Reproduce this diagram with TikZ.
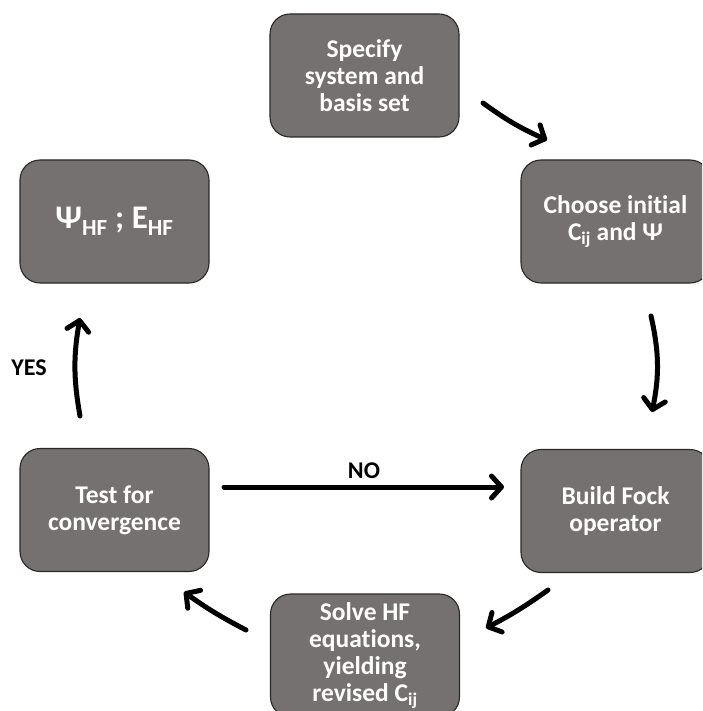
\documentclass[tikz,border=0pt]{standalone}
\usepackage{fontspec}
\setmainfont{Carlito}[Ligatures=NoCommon]
\usetikzlibrary{arrows.meta,calc}
\definecolor{boxgray}{RGB}{118,113,113}
\definecolor{boxedge}{RGB}{40,40,40}
\newcommand{\sub}[1]{\textsubscript{#1}}
\begin{document}
\begin{tikzpicture}[x=1pt,y=-1pt,
  stepbox/.style={draw=boxedge,line width=1.1pt,fill=boxgray,rounded corners=20pt,
    minimum width=189pt,minimum height=123pt,inner sep=0pt,align=center,
    text=white,font=\fontsize{25.5}{27}\selectfont\bfseries},
  flow/.style={line width=5pt,line cap=round,
    -{Straight Barb[length=10pt,width=22pt,round]}},
  lbl/.style={font=\fontsize{24}{26}\selectfont\bfseries,text=black}]
\useasboundingbox (0,0) rectangle (702,711);
\clip (0,0) rectangle (702,711);
\node[stepbox] (spec) at (364.5,75.5) {Specify\\system and\\basis set};
\node[stepbox] (init) at (615.5,221.5) {Choose initial\\C\sub{ij} and Ψ};
\node[stepbox] (fock) at (615.5,511) {Build Fock\\operator};
\node[stepbox] (solve) at (365,655.5) {Solve HF\\equations,\\yielding\\revised C\sub{ij}};
\node[stepbox] (test) at (114.5,510) {Test for\\convergence};
\node[stepbox,font=\fontsize{33}{36}\selectfont\bfseries] (res) at (114.5,221.5) {Ψ\sub{HF} ; E\sub{HF}};
% arrow end points
\coordinate (a1s) at (483,103); \coordinate (a1e) at (547,140);
\coordinate (a2s) at (651,316); \coordinate (a2e) at (652,412);
\coordinate (a3s) at (548,590); \coordinate (a3e) at (486,628);
\coordinate (a4s) at (246,630); \coordinate (a4e) at (184,592);
\coordinate (a5s) at (224,487); \coordinate (a5e) at (504,487);
\coordinate (a6s) at (80,416); \coordinate (a6e) at (80,318);
\draw[flow] (a1s) to[bend right=6] (a1e);
\draw[flow] (a2s) to[bend left=12] (a2e);
\draw[flow] (a3s) to[bend left=4] (a3e);
\draw[flow] (a4s) to[bend left=4] (a4e);
\draw[flow] (a5s) -- node[lbl,above=3pt] (no) {NO} (a5e);
\draw[flow] (a6s) to[bend left=10] (a6e);
\node[lbl] (yes) at (29,368) {YES};
\end{tikzpicture}
\end{document}
